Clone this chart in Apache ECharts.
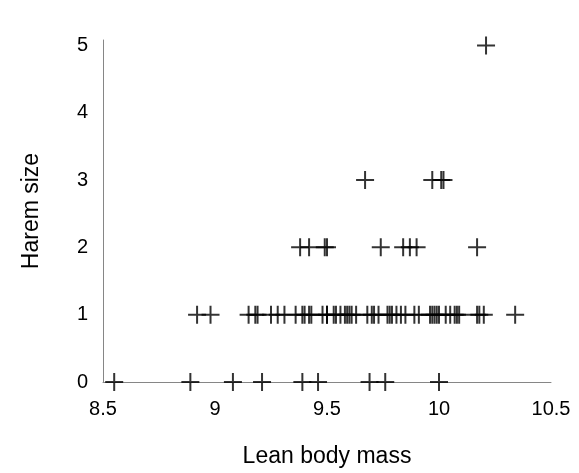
<!DOCTYPE html>
<html>
<head>
<meta charset="utf-8">
<script src="https://cdn.jsdelivr.net/npm/echarts@6/dist/echarts.min.js"></script>
<style>
  html, body { margin: 0; padding: 0; background: #fff; }
  #chart { width: 579px; height: 473px; }
</style>
</head>
<body>
<div id="chart"></div>
<script>
// Lean body mass of each male, grouped by harem size
const haremSizes = [0, 1, 2, 3, 5];
const massHarem0 = [8.55, 8.89, 9.08, 9.21, 9.39, 9.46, 9.69, 9.76, 10.0];
const massHarem1 = [8.92, 8.98, 9.15, 9.18, 9.19, 9.25, 9.28, 9.31, 9.36, 9.39,
  9.40, 9.42, 9.43, 9.48, 9.50, 9.50, 9.53, 9.54, 9.56, 9.58, 9.59, 9.60, 9.61,
  9.63, 9.68, 9.70, 9.71, 9.73, 9.77, 9.78, 9.79, 9.81, 9.83, 9.85, 9.89, 9.91,
  9.96, 9.97, 9.98, 9.99, 10.00, 10.03, 10.05, 10.07, 10.08, 10.09, 10.17,
  10.18, 10.20, 10.34];
const massHarem2 = [9.38, 9.42, 9.49, 9.50, 9.74, 9.84, 9.87, 9.90, 10.17];
const massHarem3 = [9.67, 9.97, 10.01, 10.02];
const massHarem5 = [10.21];
const xTicks = ['8.5', '9', '9.5', '10', '10.5'];
const yTicks = ['0', '1', '2', '3', '4', '5'];

const groups = [massHarem0, massHarem1, massHarem2, massHarem3, massHarem5];
const points = [];
groups.forEach((g, i) => g.forEach(m => points.push([m, haremSizes[i]])));

// plus-shaped marker
const plusPath = 'path://M-1,-9H1V-1H9V1H1V9H-1V1H-9V-1H-1Z';
const axisGrey = '#868686';
const font = 'Liberation Sans, Arial, sans-serif';

const chart = echarts.init(document.getElementById('chart'));
chart.setOption({
  animation: false,
  grid: { left: 103, right: 28, top: 40, bottom: 91 },
  xAxis: {
    type: 'value',
    min: 8.5, max: 10.5, interval: 0.5,
    name: 'Lean body mass',
    nameLocation: 'middle', nameGap: 63,
    nameTextStyle: { fontFamily: font, fontSize: 23, color: '#000' },
    axisLine: { show: true, lineStyle: { color: axisGrey, width: 1 } },
    axisTick: { show: false },
    splitLine: { show: false },
    axisLabel: {
      margin: 17, fontFamily: font, fontSize: 20, color: '#000',
      formatter: v => xTicks.find(t => Math.abs(parseFloat(t) - v) < 1e-6) || ''
    }
  },
  yAxis: {
    type: 'value',
    min: 0, max: 5.08, interval: 1,
    name: 'Harem size',
    nameLocation: 'middle', nameGap: 60,
    nameTextStyle: { fontFamily: font, fontSize: 23, color: '#000' },
    axisLine: { show: true, onZero: false, lineStyle: { color: axisGrey, width: 1 } },
    axisTick: { show: false },
    splitLine: { show: false },
    axisLabel: {
      margin: 15, fontFamily: font, fontSize: 20, color: '#000',
      showMaxLabel: false,
      formatter: v => yTicks.find(t => Math.abs(parseFloat(t) - v) < 1e-6) || ''
    }
  },
  series: [{
    type: 'scatter',
    data: points,
    symbol: plusPath,
    symbolSize: 18,
    itemStyle: { color: '#000' }
  }]
});
</script>
</body>
</html>
